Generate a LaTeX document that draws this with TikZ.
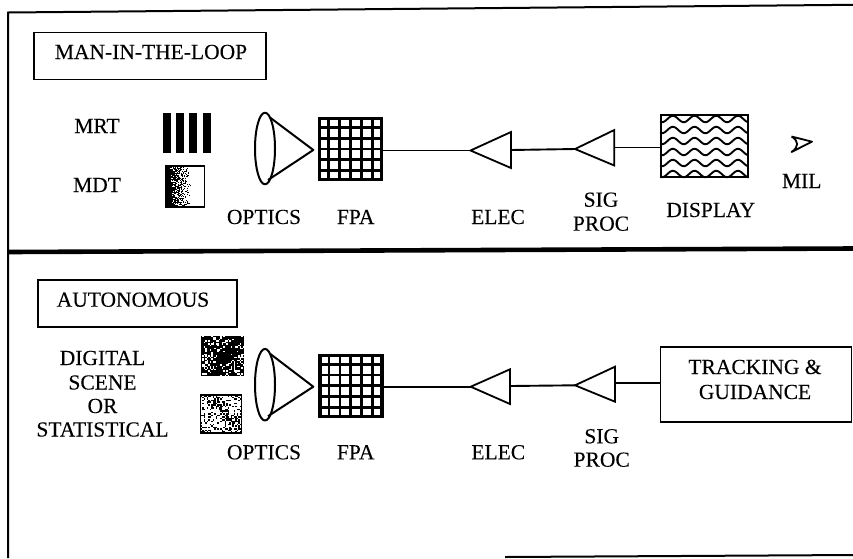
\documentclass[tikz,border=0pt]{standalone}
\usepackage{fontspec}
\setmainfont{Liberation Serif}
\newfontfamily\labfont{Liberation Serif}[FakeBold=0.12]
\usetikzlibrary{calc}
\tikzset{
  lab/.style={anchor=base,inner sep=0pt,font=\labfont\fontsize{21.5}{21.5}\selectfont},
  frame/.style={line width=2pt,black},
  titlebox/.style={draw,line width=1.7pt,inner sep=0pt,anchor=north west},
  conn/.style={line width=1.9pt},
  amp/.style={line width=1.8pt,line join=miter},
  opt/.style={line width=2pt,line join=round}
}
% dither: #1 x0, #2 y0, #3 nx, #4 ny, #5 probability expression in \u (0..1) and \v, #6 cell
\newcommand{\ditherbox}[6]{%
  \foreach \i in {1,...,#3}{\foreach \j in {1,...,#4}{%
    \pgfmathsetmacro{\u}{(\i-0.5)/#3}%
    \pgfmathsetmacro{\v}{(\j-0.5)/#4}%
    \pgfmathsetmacro{\rr}{rnd}%
    \pgfmathsetmacro{\pp}{#5}%
    \pgfmathparse{\rr<\pp?1:0}%
    \ifnum\pgfmathresult=1\relax
      \fill[black] ({#1+(\i-1)*#6},{#2+(\j-1)*#6}) rectangle ++(#6+0.05,#6+0.05);
    \fi
  }}%
}
% lens and cone: #1 centre x, #2 centre y, #3 apex y
\newcommand{\lenscone}[3]{%
  \draw[opt] (#1,#2) ellipse [x radius=10,y radius=35.8];
  \draw[opt] (#1+5,#2-31) -- (313.3,#3) -- (#1+3,#2+31.5);
}
% FPA grid, inside node #1
\newcommand{\fpagrid}[1]{%
  \foreach \k in {1,...,5}{
    \draw[line width=2.8pt] ($(#1.north west)!\k/6!(#1.north east)$) -- ($(#1.south west)!\k/6!(#1.south east)$);
    \draw[line width=2.8pt] ($(#1.north west)!\k/6!(#1.south west)$) -- ($(#1.north east)!\k/6!(#1.south east)$);
  }
}
\begin{document}
\begin{tikzpicture}[x=1pt,y=-1pt]
\useasboundingbox (0,0) rectangle (853,558);
\pgfmathsetseed{4242}
% frame
\draw[frame] (853,4.8) -- (8,12.5) -- (8,558);
\draw[frame] (505,557) -- (853,555);
\draw[line width=4.6pt] (8,252) -- (853,248.5);

% ---- upper chain
\node[titlebox,minimum width=232pt,minimum height=47pt] (mbox) at (33,31.5) {};
\node[lab] (mtitle) at (151,59) {MAN-IN-THE-LOOP};
\node[lab] (mrt) at (97,133) {MRT};
\node[lab] (mdt) at (97,192) {MDT};
\foreach \x in {162.5,175.8,189.2,202.5}{\fill[black] (\x,113) rectangle ++(8,40);}
\ditherbox{166}{166}{38}{41}{max(0,1.15-\u/0.58)}{1}
\draw[line width=1.6pt] (166,166) rectangle (204.5,207);
\lenscone{265}{148.5}{150}
\node[lab] (opt1) at (264,224) {OPTICS};
\node[draw,line width=3.4pt,inner sep=0pt,minimum width=62pt,minimum height=61pt] (fpa1) at (350.4,149) {};
\fpagrid{fpa1}
\node[lab] (fpal1) at (355.7,224) {FPA};
\coordinate (e1tip) at (470.5,150.5);
\coordinate (e1out) at (511,150);
\draw[amp] (e1tip) -- (511,132) -- (511,168) -- cycle;
\node[lab] (el1) at (498,224) {ELEC};
\coordinate (s1tip) at (575,149);
\coordinate (s1out) at (614.3,147.5);
\draw[amp] (s1tip) -- (614.3,130) -- (614.3,165.5) -- cycle;
\node[lab] (sa1) at (601,206.7) {SIG};
\node[lab] (sb1) at (601,230.7) {PROC};
\node[draw,line width=2.1pt,inner sep=0pt,minimum width=87pt,minimum height=62.5pt] (disp) at (704.3,146) {};
\begin{scope}
\clip (disp.north west) rectangle (disp.south east);
\foreach \yy in {119,130,141,152,163,174}{
  \draw[line width=1.9pt] plot[domain=660:749,samples=90,smooth] (\x,{\yy+3.2*cos(16.59*(\x-662))});
}
\end{scope}
\node[lab] (displ) at (710.7,217) {DISPLAY};
\draw[line width=1.8pt,line join=round] (791.5,136.5) -- (812,141.7) -- (791.5,152) .. controls (799,147) and (799,141) .. (791.5,136.5);
\node[lab] (mil) at (801.7,188) {MIL};
\draw[conn] (fpa1.east |- e1tip) -- (e1tip);
\draw[conn] (e1out) -- (s1tip);
\draw[conn] (s1out) -- (disp.west |- s1out);

% ---- lower chain
\node[titlebox,minimum width=199pt,minimum height=47pt] (abox) at (37,279) {};
\node[lab] (atitle) at (133,306.7) {AUTONOMOUS};
\node[lab] (d1) at (102.5,365) {DIGITAL};
\node[lab] (d2) at (102.5,389.5) {SCENE};
\node[lab] (d3) at (102.5,413) {OR};
\node[lab] (d4) at (102.5,436.5) {STATISTICAL};
\ditherbox{200.7}{335.7}{29}{27}{0.8+0.15*sin(500*\u+300*\v)}{1.5}
\ditherbox{200.7}{395}{27}{26}{0.34+0.12*sin(400*\u-350*\v)}{1.5}
\draw[line width=1.5pt] (200.7,395) rectangle (241.5,433);
\lenscone{265}{384.7}{386.7}
\node[lab] (opt2) at (264,459.3) {OPTICS};
\node[draw,line width=3.4pt,inner sep=0pt,minimum width=62pt,minimum height=61pt] (fpa2) at (350.8,385.8) {};
\fpagrid{fpa2}
\node[lab] (fpal2) at (355.7,459.3) {FPA};
\coordinate (e2tip) at (470.7,386.7);
\coordinate (e2out) at (510,386);
\draw[amp] (e2tip) -- (510,369.3) -- (510,404) -- cycle;
\node[lab] (el2) at (498.3,459.3) {ELEC};
\coordinate (s2tip) at (575,385.3);
\coordinate (s2out) at (615,383.3);
\draw[amp] (s2tip) -- (615,366.7) -- (615,401.7) -- cycle;
\node[lab] (sa2) at (601.7,443.3) {SIG};
\node[lab] (sb2) at (601.7,466.7) {PROC};
\node[draw,line width=1.8pt,inner sep=0pt,minimum width=191pt,minimum height=74.5pt] (track) at (756,384.5) {};
\node[lab] (t1) at (755,374) {TRACKING \&};
\node[lab] (t2) at (755,399) {GUIDANCE};
\draw[conn] (fpa2.east |- e2tip) -- (e2tip);
\draw[conn] (e2out) -- (s2tip);
\draw[conn] (s2out) -- (track.west |- s2out);
\end{tikzpicture}
\end{document}
